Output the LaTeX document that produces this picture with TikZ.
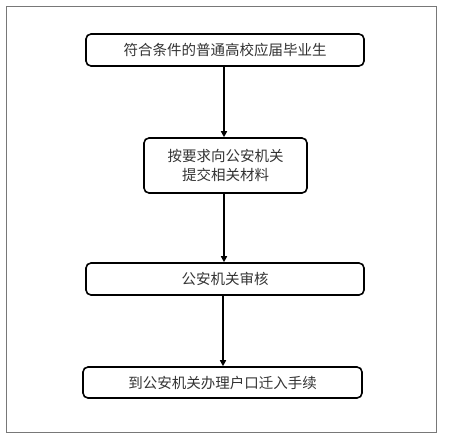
\documentclass[tikz,border=0pt]{standalone}
\usepackage{fontspec}
\setmainfont{Noto Sans CJK SC}
\usepackage{xcolor}
\definecolor{framegray}{RGB}{120,120,120}
\usetikzlibrary{arrows.meta,positioning}
\tikzset{
  flowbox/.style={draw=black, line width=1.6pt, rounded corners=5pt, minimum height=32pt, align=center, font=\fontsize{14.5}{19.5}\selectfont, text=black!80, inner sep=2pt},
  flowarrow/.style={draw=black, line width=1.6pt, -{Triangle[length=6pt,width=6pt]}}
}
\begin{document}
\begin{tikzpicture}[x=1pt, y=-1pt]
  \useasboundingbox (0,0) rectangle (449,442);
  \draw[framegray, line width=0.7pt] (6,6) rectangle (436,432);

  \node[flowbox, minimum width=278pt] (grad) at (225,50) {符合条件的普通高校应届毕业生};
  \node[flowbox, minimum width=163pt, minimum height=55pt] (submit) at (225.5,165.5) {按要求向公安机关\\提交相关材料};
  \node[flowbox, minimum width=278pt] (review) at (225,279) {公安机关审核};
  \node[flowbox, minimum width=279pt, minimum height=31pt] (transfer) at (222.5,382.5) {到公安机关办理户口迁入手续};

  \draw[flowarrow] (grad.south -| 224,0) -- (submit.north -| 224,0);
  \draw[flowarrow] (submit.south -| 224,0) -- (review.north -| 224,0);
  \draw[flowarrow] (review.south -| 223,0) -- (transfer.north -| 223,0);
\end{tikzpicture}
\end{document}
